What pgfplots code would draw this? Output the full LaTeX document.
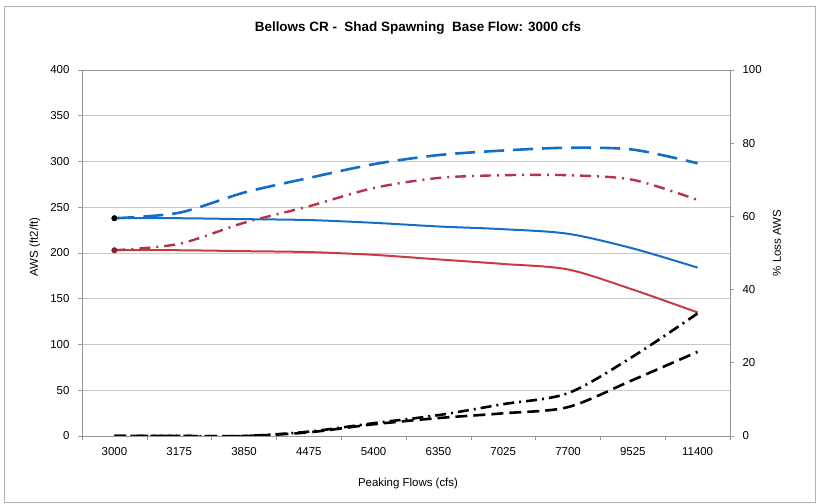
\documentclass[border=0pt]{standalone}
\usepackage{pgfplots}
\pgfplotsset{compat=1.18}
\usepackage{fontspec}
\setmainfont{Liberation Sans}

\definecolor{xlblue}{RGB}{20,110,200}
\definecolor{xlred}{RGB}{200,60,65}
\definecolor{xldred}{RGB}{185,50,75}
\definecolor{gridgray}{RGB}{200,200,200}
\definecolor{axgray}{RGB}{150,150,150}

\begin{document}
\begin{tikzpicture}[x=1bp,y=1bp]
% picture frame: reference is 818 x 504 px, axis box from (82,70) to (730,436)
\path[use as bounding box] (-82,-68) rectangle (736,436);
\draw[gray!60, line width=1bp] (-77,-67) rectangle (733,429);

\pgfplotsset{
  every axis/.append style={
    at={(0,0)}, anchor=south west,
    scale only axis, width=648bp, height=366bp,
    xmin=-0.5, xmax=9.5,
    font=\fontsize{11.5}{13}\selectfont,
    /pgf/number format/assume math mode=true,
    tick align=outside,
    tick style={axgray, line width=0.6bp},
    major tick length=4bp,
  },
}

\begin{axis}[
  ymin=0, ymax=400, ytick={0,50,...,400},
  axis y line*=left, axis x line*=bottom,
  axis line style={axgray, line width=0.8bp},
  xtick={0,...,9},
  xticklabels={3000,3175,3850,4475,5400,6350,7025,7700,9525,11400},
  major x tick style={draw=none},
  minor xtick={-0.5,0.5,...,9.5},
  minor tick length=4bp,
  ymajorgrids, grid style={gridgray, line width=0.6bp},
  yticklabel style={xshift=-5bp},
  xticklabel style={yshift=-4bp},
]
\addplot[xlblue, line width=2bp, smooth, tension=0.5] coordinates {
  (0,238) (1,238) (2,237) (3,236) (4,233) (5,229) (6,226) (7,221) (8,205) (9,184)
};
\addplot[xlred, line width=2bp, smooth, tension=0.5] coordinates {
  (0,203) (1,203) (2,202) (3,201) (4,198) (5,193) (6,188) (7,182) (8,160) (9,135)
};
\addplot[xlblue, line width=2.6bp, smooth, tension=0.5, dash pattern=on 20bp off 9bp] coordinates {
  (0,238) (1,244) (2,266) (3,282) (4,297) (5,307) (6,312) (7,315) (8,313) (9,298)
};
\addplot[xldred, line width=2.4bp, smooth, tension=0.5,
  dash pattern=on 11bp off 6bp on 2bp off 6bp] coordinates {
  (0,203) (1,210) (2,233) (3,251) (4,271) (5,282) (6,285) (7,285) (8,280) (9,258)
};
\addplot[black, only marks, mark=*, mark size=2.8bp] coordinates {(0,238)};
\addplot[xldred!70!black, only marks, mark=*, mark size=2.8bp] coordinates {(0,203)};
\draw[axgray, line width=0.8bp] (rel axis cs:0,1) -- (rel axis cs:1,1);
\end{axis}

\begin{axis}[
  ymin=0, ymax=100, ytick={0,20,...,100},
  axis y line*=right, axis x line=none,
  axis line style={axgray, line width=0.8bp},
  yticklabel style={xshift=5bp},
]
\addplot[black, line width=2.6bp, smooth, tension=0.5,
  dash pattern=on 11bp off 5bp on 2bp off 5bp] coordinates {
  (0,0) (1,0) (2,0) (3,1.2) (4,3.5) (5,5.7) (6,8.7) (7,11.7) (8,21.7) (9,33.5)
};
\addplot[black, line width=2.6bp, smooth, tension=0.5,
  dash pattern=on 12bp off 6bp] coordinates {
  (0,0) (1,0) (2,0) (3,1.0) (4,3.2) (5,4.9) (6,6.2) (7,7.9) (8,15.3) (9,23)
};
\end{axis}

\node[font=\bfseries\fontsize{13.5}{15}\selectfont] at (336,408) {Bellows CR -\ \ Shad Spawning\ \ Base Flow: 3000 cfs};
\node[font=\fontsize{11.5}{13}\selectfont] at (326,-48) {Peaking Flows (cfs)};
\node[font=\fontsize{11.5}{13}\selectfont, rotate=90] at (-47,189) {AWS (ft2/ft)};
\node[font=\fontsize{11.5}{13}\selectfont, rotate=90] at (695,193) {\% Loss AWS};
\end{tikzpicture}
\end{document}
